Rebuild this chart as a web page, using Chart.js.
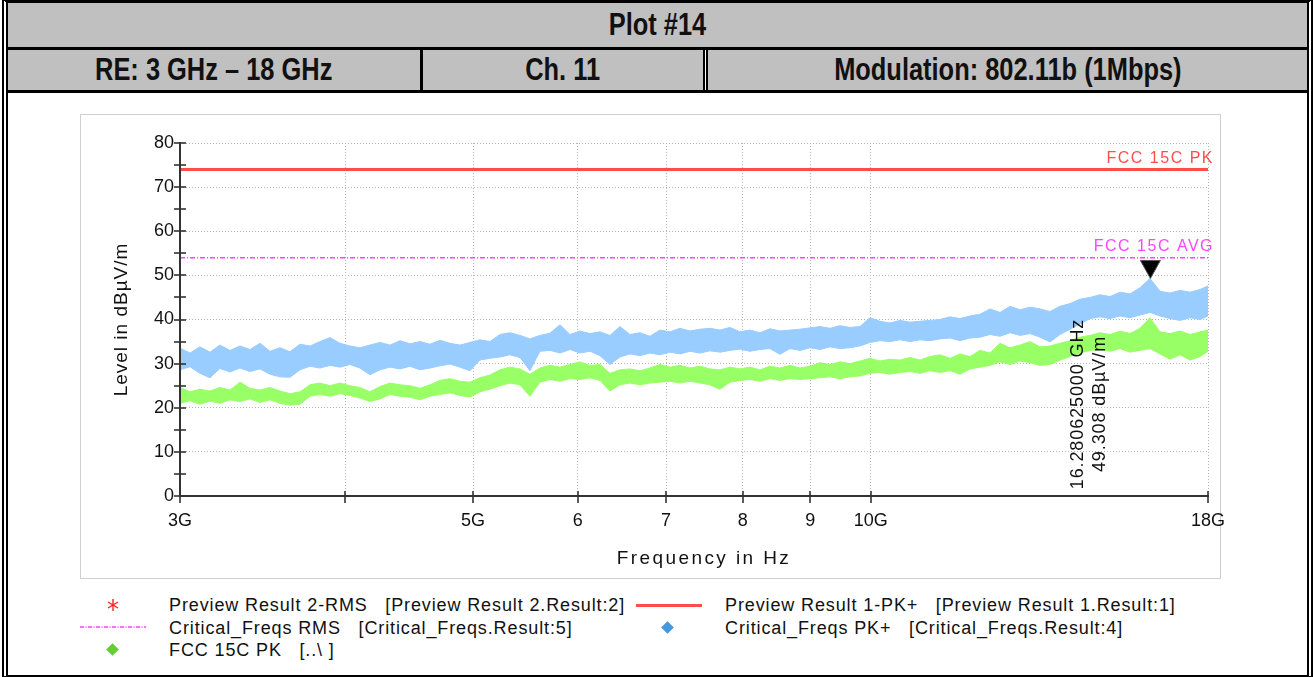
<!DOCTYPE html>
<html>
<head>
<meta charset="utf-8">
<script src="https://cdn.jsdelivr.net/npm/chart.js@4.4.1/dist/chart.umd.min.js"></script>
<style>
  body { margin:0; width:1315px; height:677px; background:#fff; position:relative; overflow:hidden; font-family:'Liberation Sans', Arial, sans-serif; }
  .abs { position:absolute; }
  .frame { position:absolute; left:2px; top:0; width:1311px; height:677px; box-sizing:border-box;
           border-left:6px double #000; border-right:6px double #000; border-top:3px solid #000; border-bottom:2px solid #000; }
  .cell { position:absolute; background:#c0c0c0; display:flex; align-items:center; justify-content:center;
          font-weight:bold; font-size:31px; color:#111; }
  .cell span { display:inline-block; transform:scaleX(.82); white-space:nowrap; }
  .blk { position:absolute; background:#000; }
  .panel { position:absolute; left:80px; top:114px; width:1141px; height:465px; box-sizing:border-box; border:1px solid #cfcfcf; }
  .lg { position:absolute; font-size:18px; color:#111; white-space:pre; line-height:20px; letter-spacing:0.88px; }
  .dia { position:absolute; width:9px; height:9px; transform:rotate(45deg); }
</style>
</head>
<body>
<div class="frame"></div>

<!-- header rows -->
<div class="cell" style="left:8px;top:3px;width:1299px;height:44px"><span>Plot #14</span></div>
<div class="blk" style="left:8px;top:47px;width:1299px;height:3px"></div>
<div class="cell" style="left:8px;top:50px;width:412px;height:40px"><span>RE: 3 GHz – 18 GHz</span></div>
<div class="blk" style="left:420px;top:50px;width:3px;height:40px"></div>
<div class="cell" style="left:423px;top:50px;width:280px;height:40px"><span>Ch. 11</span></div>
<div class="blk" style="left:703px;top:50px;width:2px;height:40px"></div>
<div class="blk" style="left:706px;top:50px;width:2px;height:40px"></div>
<div class="cell" style="left:708px;top:50px;width:599px;height:40px"><span>Modulation: 802.11b (1Mbps)</span></div>
<div class="blk" style="left:8px;top:90px;width:1299px;height:3px"></div>

<div class="panel"></div>
<canvas id="c" width="1158" height="461" class="abs" style="left:82px;top:116px;width:1158px;height:461px"></canvas>

<!-- legend -->
<svg class="abs" style="left:104px;top:596px" width="18" height="18">
  <g stroke="#ff2020" stroke-width="1.4">
    <line x1="9" y1="3" x2="9" y2="15"/><line x1="4" y1="6" x2="14" y2="12"/><line x1="4" y1="12" x2="14" y2="6"/>
  </g>
</svg>
<div class="lg" style="left:169px;top:595px">Preview Result 2-RMS   [Preview Result 2.Result:2]</div>
<div class="abs" style="left:636px;top:604px;width:66px;height:3px;background:#ff4d4d"></div>
<div class="lg" style="left:725px;top:595px">Preview Result 1-PK+   [Preview Result 1.Result:1]</div>

<svg class="abs" style="left:80px;top:622px" width="68" height="10">
  <line x1="0" y1="5" x2="66" y2="5" stroke="#ff44ff" stroke-width="1.5" stroke-dasharray="4,1.5,1,1.5"/>
</svg>
<div class="lg" style="left:169px;top:618px">Critical_Freqs RMS   [Critical_Freqs.Result:5]</div>
<div class="dia" style="left:663px;top:623px;background:#4499dd"></div>
<div class="lg" style="left:725px;top:618px">Critical_Freqs PK+   [Critical_Freqs.Result:4]</div>

<div class="dia" style="left:108px;top:645px;background:#66cc33"></div>
<div class="lg" style="left:169px;top:640px">FCC 15C PK   [..\ ]</div>

<script>
// frequency points of the traces, GHz
const freqGHz = [3.000,3.053,3.106,3.161,3.216,3.273,3.331,3.389,3.449,3.509,
  3.571,3.634,3.698,3.763,3.829,3.896,3.965,4.034,4.105,4.177,
  4.251,4.326,4.402,4.479,4.558,4.638,4.720,4.803,4.887,4.973,
  5.060,5.149,5.240,5.332,5.426,5.521,5.618,5.717,5.818,5.920,
  6.024,6.130,6.238,6.347,6.459,6.572,6.688,6.805,6.925,7.047,
  7.171,7.297,7.425,7.556,7.689,7.824,7.961,8.101,8.244,8.389,
  8.536,8.686,8.839,8.995,9.153,9.314,9.477,9.644,9.814,9.986,
  10.162,10.340,10.522,10.707,10.896,11.087,11.282,11.481,11.683,11.888,
  12.097,12.310,12.526,12.747,12.971,13.199,13.431,13.667,13.907,14.152,
  14.401,14.654,14.912,15.174,15.441,15.712,15.989,16.270,16.556,16.847,
  17.143,17.445,17.751,18.000];

// PK+ trace (light blue) upper / lower envelope, dBµV/m
const blueHi = [33.5,32.4,33.8,32.6,34.2,33.0,34.0,33.2,34.6,32.8,
  33.6,32.7,34.4,34.0,35.0,35.9,34.6,34.0,33.6,34.2,
  34.8,34.2,35.2,34.5,35.0,34.4,35.3,34.6,34.2,34.8,
  35.4,35.0,36.6,37.0,36.4,35.6,36.4,36.9,38.8,36.6,
  37.4,36.8,37.2,36.4,38.4,36.6,37.0,36.2,37.6,37.2,
  38.0,37.4,37.8,38.0,37.6,38.2,37.2,37.6,37.0,37.9,
  37.4,37.6,37.8,38.1,38.4,38.0,38.6,38.2,38.4,40.4,
  39.6,39.2,39.8,39.4,39.6,39.8,40.0,40.6,40.2,40.8,
  41.2,42.4,41.6,43.0,42.2,42.8,42.4,41.8,43.0,43.6,
  44.6,45.0,45.6,45.2,46.2,45.8,47.2,49.3,46.4,46.0,
  46.6,46.2,46.8,47.6];
const blueLo = [28.6,29.3,27.8,26.8,28.9,28.1,29.0,28.2,28.8,27.6,
  27.0,26.9,28.6,29.4,29.0,29.6,29.2,29.8,29.0,27.5,
  28.6,29.2,28.8,29.4,28.6,29.0,29.5,29.9,29.2,28.4,
  30.8,31.2,31.5,32.0,31.4,28.4,32.8,33.0,32.4,33.2,
  32.4,32.8,31.8,29.8,31.5,32.2,31.8,32.4,32.0,32.6,
  32.2,32.8,32.4,32.9,32.6,33.0,33.3,32.8,33.2,33.4,
  32.1,33.4,33.0,33.6,33.2,33.8,33.4,33.6,34.0,34.8,
  35.2,35.0,35.4,35.0,35.4,35.2,35.6,35.8,35.2,35.8,
  36.0,36.6,36.2,37.0,36.4,36.8,36.0,34.9,36.6,37.8,
  39.0,40.2,40.6,40.2,40.8,40.4,41.0,41.6,40.8,40.2,
  39.8,40.4,40.0,40.8];

// RMS trace (light green) upper / lower envelope
const greenHi = [24.6,23.6,24.2,23.8,24.6,24.0,25.8,24.4,24.0,24.6,
  23.8,23.2,23.6,25.2,25.6,25.0,25.6,25.0,24.6,23.6,
  24.8,25.6,25.2,25.0,24.4,25.2,26.2,26.6,26.0,25.8,
  26.8,27.4,28.6,29.2,28.8,27.6,29.0,29.6,29.2,29.8,
  30.4,29.6,29.8,27.8,28.6,28.8,28.4,29.0,29.8,29.2,
  29.6,29.0,29.4,28.8,28.6,29.2,28.8,29.2,28.6,29.4,
  29.0,29.6,29.0,29.4,30.2,29.8,30.4,30.0,30.6,31.2,
  30.6,31.0,30.8,31.4,30.8,31.6,32.0,31.2,32.2,31.6,
  33.0,32.4,34.6,33.6,34.2,35.0,33.8,34.0,34.6,35.2,
  36.0,36.4,37.0,36.6,37.4,36.8,38.0,40.4,37.2,36.8,
  37.4,36.6,37.2,37.6];
const greenLo = [21.0,21.6,20.8,21.5,21.0,21.8,21.4,22.0,21.2,21.8,
  21.0,20.6,20.8,22.6,23.0,22.6,23.2,22.8,22.2,21.4,
  22.0,23.0,22.6,22.4,21.8,22.6,23.0,23.4,22.8,22.4,
  23.6,24.2,25.0,25.6,25.2,22.6,25.8,26.4,26.0,26.6,
  26.4,26.8,26.2,23.8,25.2,25.6,25.2,25.6,25.8,26.0,
  25.6,26.0,25.6,25.2,24.2,25.8,26.2,26.4,26.0,26.6,
  26.2,26.6,26.4,26.6,26.8,27.0,26.6,27.0,27.2,27.8,
  28.0,27.6,28.0,28.2,27.8,28.4,28.0,28.4,27.6,28.8,
  29.2,29.6,30.4,29.8,30.6,30.2,29.6,29.8,30.8,31.6,
  32.4,33.0,33.2,32.8,33.4,32.6,33.0,33.4,32.2,31.0,
  32.0,30.8,31.6,32.8];

// limit lines
const limitFreqs = [3, 18];
const pkLimit = [74, 74];
const avgLimit = [54, 54];

// axes
const xTickVals = [3, 4, 5, 6, 7, 8, 9, 10, 18];
const xTickLabels = ['3G', '', '5G', '6', '7', '8', '9', '10G', '18G'];

// marker
const markerFreq = 16.280625;
const markerLevel = 49.308;
const markerText = ['16.280625000 GHz', '49.308 dBµV/m'];

const FONT = "'Liberation Sans', Arial, sans-serif";
const pts = (xs, ys) => xs.map((f, i) => ({ x: f, y: ys[i] }));

const deco = {
  id: 'deco',
  afterDraw(chart) {
    const { ctx, chartArea: a, scales: { x, y } } = chart;
    const line = (x1, y1, x2, y2) => { ctx.beginPath(); ctx.moveTo(x1, y1); ctx.lineTo(x2, y2); ctx.stroke(); };
    ctx.save();

    // axis lines + ticks crossing them
    ctx.strokeStyle = '#333';
    ctx.lineWidth = 2;
    line(a.left, a.top - 1, a.left, a.bottom);
    line(a.left, a.bottom, a.right + 1, a.bottom);
    ctx.lineWidth = 1.6;
    for (let v = 0; v <= 80; v += 5) {
      const py = Math.round(y.getPixelForValue(v));
      line(a.left - 6, py, a.left + 6, py);
    }
    xTickVals.forEach(v => {
      const px = Math.round(x.getPixelForValue(v));
      line(px, a.bottom - 5, px, a.bottom + 7);
    });

    // limit labels
    ctx.font = '16px ' + FONT;
    ctx.letterSpacing = '1.5px';
    ctx.textAlign = 'right';
    ctx.textBaseline = 'middle';
    ctx.fillStyle = '#ff4d4d';
    ctx.fillText('FCC 15C PK', a.right + 6, y.getPixelForValue(pkLimit[1]) - 11);
    ctx.fillStyle = '#ff44ff';
    ctx.fillText('FCC 15C AVG', a.right + 6, y.getPixelForValue(avgLimit[1]) - 11);

    // marker triangle
    const mx = x.getPixelForValue(markerFreq), my = y.getPixelForValue(markerLevel);
    ctx.fillStyle = '#000';
    ctx.strokeStyle = '#555';
    ctx.lineWidth = 1;
    ctx.beginPath();
    ctx.moveTo(mx, my);
    ctx.lineTo(mx - 10, my - 18);
    ctx.lineTo(mx + 10, my - 18);
    ctx.closePath();
    ctx.fill();
    ctx.stroke();

    // marker readout, rotated
    ctx.font = '18px ' + FONT;
    ctx.letterSpacing = '0.9px';
    ctx.fillStyle = '#111';
    ctx.textAlign = 'center';
    [[markerText[0], -72], [markerText[1], -50]].forEach(([t, dx]) => {
      ctx.save();
      ctx.translate(mx + dx, a.bottom - 92);
      ctx.rotate(-Math.PI / 2);
      ctx.fillText(t, 0, 0);
      ctx.restore();
    });

    // axis titles
    ctx.font = '19px ' + FONT;
    ctx.letterSpacing = '1px';
    ctx.save();
    ctx.translate(40, (a.top + a.bottom) / 2);
    ctx.rotate(-Math.PI / 2);
    ctx.fillText('Level in dBµV/m', 0, 0);
    ctx.restore();
    ctx.letterSpacing = '2.4px';
    ctx.fillText('Frequency in Hz', 622, a.bottom + 63);

    ctx.restore();
  }
};

new Chart(document.getElementById('c'), {
  type: 'line',
  data: {
    datasets: [
      { data: pts(freqGHz, blueLo), borderColor: '#99ccff', borderWidth: 1, fill: false },
      { data: pts(freqGHz, blueHi), borderColor: '#99ccff', borderWidth: 1, backgroundColor: '#99ccff', fill: '-1' },
      { data: pts(freqGHz, greenLo), borderColor: '#99ff66', borderWidth: 1, fill: false },
      { data: pts(freqGHz, greenHi), borderColor: '#99ff66', borderWidth: 1, backgroundColor: '#99ff66', fill: '-1' },
      { data: pts(limitFreqs, pkLimit), borderColor: '#ff4d4d', borderWidth: 3, fill: false },
      { data: pts(limitFreqs, avgLimit), borderColor: '#ff44ff', borderWidth: 1.3, borderDash: [5, 2, 1, 2], fill: false }
    ]
  },
  options: {
    responsive: false,
    animation: false,
    devicePixelRatio: 1,
    elements: { point: { radius: 0 }, line: { tension: 0 } },
    layout: { padding: { left: 0, right: 32, top: 27, bottom: 0 } },
    plugins: { legend: { display: false }, tooltip: { enabled: false } },
    scales: {
      x: {
        type: 'logarithmic', min: 3, max: 18,
        afterBuildTicks: s => { s.ticks = xTickVals.map(v => ({ value: v })); },
        afterFit: s => { s.height = 81; s.paddingLeft = 0; s.paddingRight = 0; },
        ticks: {
          autoSkip: false, maxRotation: 0, padding: 14, color: '#111',
          font: { family: FONT, size: 18 },
          callback: v => xTickLabels[xTickVals.indexOf(v)]
        },
        grid: { color: '#b4b4b4', lineWidth: 1, drawTicks: false },
        border: { display: false, dash: [1, 2] }
      },
      y: {
        min: 0, max: 80,
        afterFit: s => { s.width = 98; s.paddingTop = 0; s.paddingBottom = 0; },
        ticks: {
          stepSize: 5, padding: 6, color: '#111',
          font: { family: FONT, size: 18 },
          callback: v => (v % 10 === 0 ? v : '')
        },
        grid: { color: '#b4b4b4', lineWidth: 1, drawTicks: false },
        border: { display: false, dash: [1, 2] }
      }
    }
  },
  plugins: [deco]
});
</script>
</body>
</html>
